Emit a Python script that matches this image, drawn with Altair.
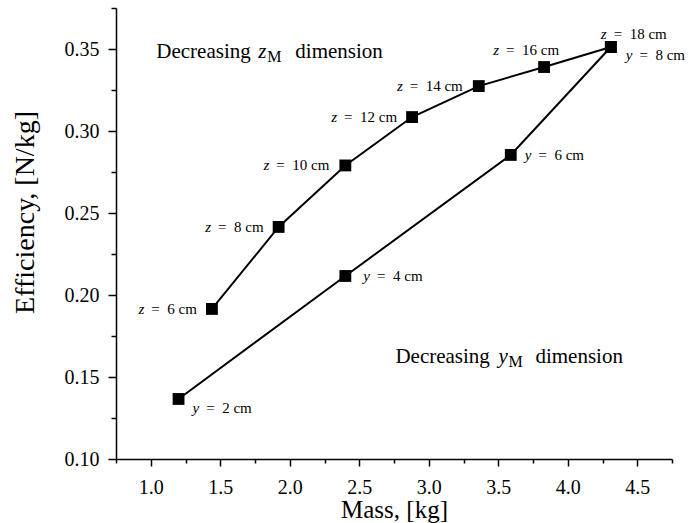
import altair as alt
import pandas as pd

# ---- data ----
z_cm = [6, 8, 10, 12, 14, 16, 18]
mass_z = [1.44, 1.92, 2.40, 2.88, 3.36, 3.83, 4.31]
eff_z = [0.1915, 0.2415, 0.279, 0.3085, 0.3274, 0.339, 0.3512]

y_cm = [2, 4, 6, 8]
mass_y = [1.20, 2.40, 3.59, 4.31]
eff_y = [0.1366, 0.2116, 0.2854, 0.3512]

x_major = [1.0, 1.5, 2.0, 2.5, 3.0, 3.5, 4.0, 4.5]
y_major = [0.10, 0.15, 0.20, 0.25, 0.30, 0.35]

FONT = "Liberation Serif"
W, H = 556, 451
PAD = {"left": 116, "top": 8, "right": 690 - 116 - W, "bottom": 523 - 8 - H}

x_ticks = [round(0.75 + 0.25 * k, 3) for k in range(17)]
y_ticks = [round(0.10 + 0.025 * k, 4) for k in range(12)]

xscale = alt.Scale(domain=[0.75, 4.75], nice=False, zero=False)
yscale = alt.Scale(domain=[0.10, 0.375], nice=False, zero=False)

xmaj = "abs(datum.value*2 - round(datum.value*2)) < 1e-6"
ymaj = "abs(datum.value*20 - round(datum.value*20)) < 1e-6"

xaxis = alt.Axis(
    values=x_ticks, title="Mass, [kg]", grid=False,
    labelExpr=f"({xmaj}) && datum.value > 0.9 && datum.value < 4.6 ? format(datum.value, '.1f') : ''",
    tickSize={"condition": {"test": xmaj, "value": 7}, "value": 4},
    labelFlush=False, labelOverlap=False, labelBound=False,
    labelPadding=11, titlePadding=0, titleFontSize=25,
)
yaxis = alt.Axis(
    values=y_ticks, title="Efficiency, [N/kg]", grid=False,
    labelExpr=f"({ymaj}) ? format(datum.value, '.2f') : ''",
    tickSize={"condition": {"test": ymaj, "value": 8}, "value": 5},
    labelFlush=False, labelOverlap=False, labelBound=False,
    labelPadding=9, titleFontSize=28, titleX=-91, titleY=204,
    titleAngle=270, titleAlign="center", titleBaseline="middle",
)

X = alt.X("mass:Q", scale=xscale, axis=xaxis)
Y = alt.Y("eff:Q", scale=yscale, axis=yaxis)

pts = pd.DataFrame({
    "mass": mass_z + mass_y,
    "eff": eff_z + eff_y,
    "series": ["z"] * len(z_cm) + ["y"] * len(y_cm),
})

lines = alt.Chart(pts).mark_line(color="black", strokeWidth=2).encode(
    x=X, y=Y, detail="series:N", order="mass:Q")
squares = alt.Chart(pts).mark_square(color="black", size=140, opacity=1).encode(x=X, y=Y)

# ---- point labels (italic variable + upright rest) ----
LFS = 15
GAP = 7
CW = {" ": 0.25, "\u2002": 0.5, "=": 0.564, "c": 0.444, "m": 0.778, "z": 0.389, "y": 0.444}


def tw(s, fs):
    return sum(CW.get(ch, 0.5) for ch in s) * fs


# placement: (kind, offset_x, offset_y)
place_z = {6: ("L", -15, 0), 8: ("L", -15, 0), 10: ("L", -16, 0), 12: ("L", -15, 0),
           14: ("L", -16, 0), 16: ("C", -18, -17), 18: ("S", -10, -13)}
place_y = {2: ("S", 14, 9), 4: ("S", 18, 0), 6: ("S", 14, 0), 8: ("S", 15, 8)}

label_layers = []


def add_label(letter, num, m, e, kind, ox, oy):
    rest = "=\u2002" + str(num) + " cm"
    wl = tw(letter, LFS)
    wr = tw(rest, LFS)
    total = wl + GAP + wr
    if kind == "L":
        start = ox - total
    elif kind == "C":
        start = ox - total / 2
    else:
        start = ox
    d = pd.DataFrame({"mass": [m], "eff": [e], "t1": [letter], "t2": [rest]})
    label_layers.append(alt.Chart(d).mark_text(
        align="left", baseline="middle", dx=start, dy=oy, font=FONT, fontSize=LFS,
        fontStyle="italic", color="black").encode(x=X, y=Y, text="t1:N"))
    label_layers.append(alt.Chart(d).mark_text(
        align="left", baseline="middle", dx=start + wl + GAP, dy=oy, font=FONT, fontSize=LFS,
        color="black").encode(x=X, y=Y, text="t2:N"))


for c, m, e in zip(z_cm, mass_z, eff_z):
    k, ox, oy = place_z[c]
    add_label("z", c, m, e, k, ox, oy)
for c, m, e in zip(y_cm, mass_y, eff_y):
    k, ox, oy = place_y[c]
    add_label("y", c, m, e, k, ox, oy)

# ---- annotations ----
ann_x = [1.04, 2.76]
ann_y = [0.348, 0.162]
ann_var = ["z", "y"]
AFS = 21


def annotation(ax, ay, var, offs):
    d = pd.DataFrame({"mass": [ax], "eff": [ay], "a": ["Decreasing"], "v": [var],
                      "s": ["M"], "b": ["dimension"]})
    base = alt.Chart(d)
    return [
        base.mark_text(align="left", baseline="middle", font=FONT, fontSize=AFS, color="black")
        .encode(x=X, y=Y, text="a:N"),
        base.mark_text(align="left", baseline="middle", dx=offs[0], font=FONT, fontSize=AFS,
                       fontStyle="italic", color="black").encode(x=X, y=Y, text="v:N"),
        base.mark_text(align="left", baseline="middle", dx=offs[1], dy=5, font=FONT, fontSize=16,
                       color="black").encode(x=X, y=Y, text="s:N"),
        base.mark_text(align="left", baseline="middle", dx=offs[2], font=FONT, fontSize=AFS,
                       color="black").encode(x=X, y=Y, text="b:N"),
    ]


ann_layers = annotation(ann_x[0], ann_y[0], ann_var[0], (102, 111, 139)) + \
    annotation(ann_x[1], ann_y[1], ann_var[1], (103, 113, 140))

chart = alt.layer(lines, squares, *label_layers, *ann_layers).properties(
    width=W, height=H, autosize=alt.AutoSizeParams(type="none"), padding=PAD,
    background="white",
).configure_view(stroke=None).configure_axis(
    labelFont=FONT, titleFont=FONT, labelFontSize=20,
    titleFontWeight="normal", labelColor="black", titleColor="black",
    domainColor="black", domainWidth=1.5, tickColor="black", tickWidth=1.5,
)

chart.save("out.html", embed_options={"renderer": "svg", "actions": False})
